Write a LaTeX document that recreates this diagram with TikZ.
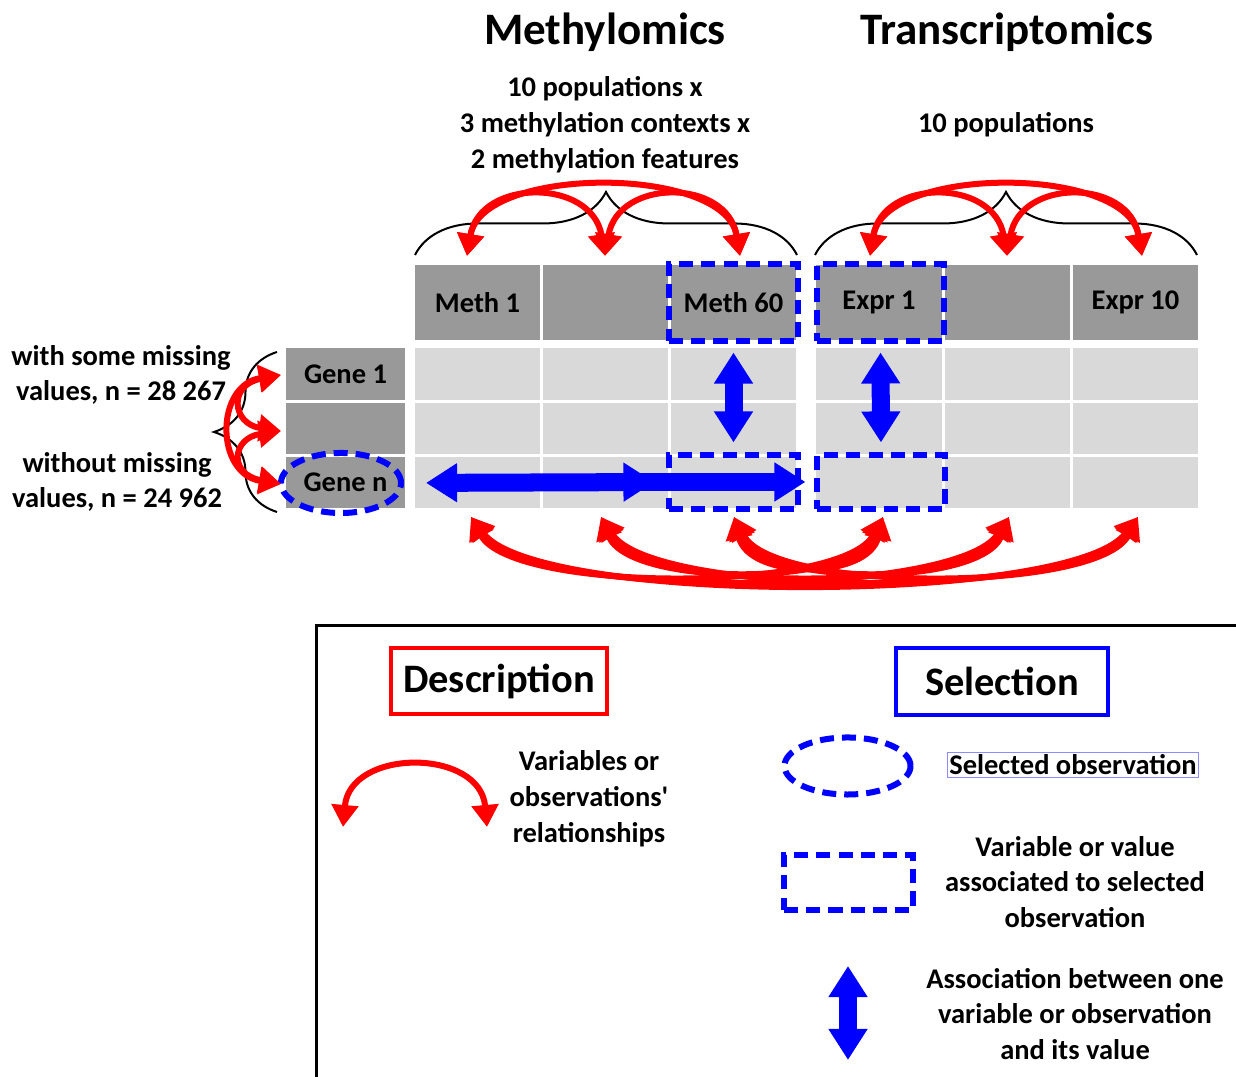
\documentclass[tikz,border=0pt]{standalone}
\usepackage{fontspec}
\setmainfont{Carlito}
\usetikzlibrary{arrows.meta,decorations.pathreplacing,shapes.geometric}

\definecolor{hdgray}{RGB}{153,153,153}
\definecolor{cellgray}{RGB}{217,217,217}
\definecolor{selblue}{RGB}{0,0,255}
\definecolor{relred}{RGB}{255,0,0}

\begin{document}
\begin{tikzpicture}[x = 0.01cm, y = -0.01cm,
    every node/.style = {font=\fontsize{8.1}{10.2}\selectfont\bfseries},
    title/.style = {font=\fontsize{12.8}{15}\selectfont\bfseries},
    legtitle/.style = {font=\fontsize{11.5}{14}\selectfont\bfseries, line width=0.04cm,
        minimum width=2.12cm, minimum height=0.66cm},
    head/.style = {fill=hdgray, minimum width=1.25cm, minimum height=0.75cm, inner sep=0pt},
    cell/.style = {fill=cellgray, minimum width=1.25cm, minimum height=0.51cm, inner sep=0pt},
    genecell/.style = {fill=hdgray, minimum width=1.19cm, minimum height=0.51cm, inner sep=0pt},
    seldash/.style = {draw=selblue, line width=0.06cm, dash pattern=on 0.14cm off 0.08cm, inner sep=0pt},
    relarrow/.style = {draw=relred, line width=0.06cm,
        arrows={Triangle[width=0.26cm,length=0.22cm]-Triangle[width=0.26cm,length=0.22cm]}},
    assoc/.style = {draw=selblue, line width=0.18cm,
        arrows={Triangle[width=0.37cm,length=0.31cm]-Triangle[width=0.37cm,length=0.31cm]}},
    brc/.style = {decorate, decoration={brace, amplitude=0.63cm}, line width=0.02cm}]

    \useasboundingbox (0,0) rectangle (1236,1077);

    % titles
    \node[title] (meth) at (605,32) {Methylomics};
    \node[title] (trans) at (1007,32) {Transcriptomics};
    \node[align=center] (mdesc) at (605,125) {10 populations x\\3 methylation contexts x\\2 methylation features};
    \node (tdesc) at (1006,125) {10 populations};

    % header row
    \node[head] (m1) at (477.5,302.5) {Meth 1};
    \node[head] (m2) at (605.5,302.5) {};
    \node[head] (m60) at (733.5,302.5) {Meth 60};
    \node[head] (e1) at (879,302.5) {Expr 1};
    \node[head] (e2) at (1007.5,302.5) {};
    \node[head] (e10) at (1135.5,302.5) {Expr 10};

    % gene column
    \node[genecell] (g1) at (345.5,374) {Gene 1};
    \node[genecell] (g2) at (345.5,428.5) {};
    \node[genecell] (gn) at (345.5,482.5) {Gene n};

    % values
    \foreach \x [count=\i] in {477.5,605.5,733.5,879,1007.5,1135.5}
      \foreach \y [count=\j] in {374,428.5,482.5}
        \node[cell] (v\i\j) at (\x,\y) {};

    % left labels
    \node[align=center] (lmiss) at (121,375) {with some missing\\values, n = 28 267};
    \node[align=center] (lfull) at (117,482) {without missing\\values, n = 24 962};

    % braces
    \draw[brc] (415,255) -- (797,255);
    \draw[brc] (815,255) -- (1197,255);
    \draw[brc] (277,512) -- (277,352);

    % selection
    \node[seldash, ellipse, minimum width=1.2cm, minimum height=0.6cm] (selgn) at (341,483) {};
    \node[seldash, minimum width=1.28cm, minimum height=0.76cm] (selm) at (733.5,302.5) {};
    \node[seldash, minimum width=1.26cm, minimum height=0.76cm] (sele) at (880.5,302.5) {};
    \node[seldash, minimum width=1.28cm, minimum height=0.53cm] (selmv) at (733.5,482) {};
    \node[seldash, minimum width=1.27cm, minimum height=0.53cm] (selev) at (881,482) {};

    \draw[assoc, shorten <=0.09cm, shorten >=0.1cm] (selm.south) -- (selmv.north);
    \draw[assoc, shorten <=0.09cm, shorten >=0.1cm] (sele.south) -- (selev.north);
    \draw[assoc, arrows={-Triangle[width=0.37cm,length=0.31cm]}, shorten <=-0.3cm, shorten >=0.09cm] (selmv.west) -- (selev.west);
    \draw[assoc, shorten <=0.22cm, shorten >=0.12cm] (selgn.east) -- (selmv.west);

    % relationships, columns
    \coordinate (tm1) at (467,256);
    \coordinate (tm2) at (605,256);
    \coordinate (tm3) at (740,256);
    \coordinate (te1) at (870,256);
    \coordinate (te2) at (1007,256);
    \coordinate (te3) at (1142,256);
    \draw[relarrow] (tm1) .. controls (482,165) and (725,165) .. (tm3);
    \draw[relarrow] (tm1) .. controls (480,178) and (592,178) .. (tm2);
    \draw[relarrow] (tm2) .. controls (618,178) and (727,178) .. (tm3);
    \draw[relarrow] (te1) .. controls (885,165) and (1127,165) .. (te3);
    \draw[relarrow] (te1) .. controls (883,178) and (994,178) .. (te2);
    \draw[relarrow] (te2) .. controls (1020,178) and (1129,178) .. (te3);

    \coordinate (bm1) at (471,517);
    \coordinate (bm2) at (601,517);
    \coordinate (bm3) at (734,517);
    \coordinate (be1) at (883,517);
    \coordinate (be2) at (1009,517);
    \coordinate (be3) at (1138,517);
    \draw[relarrow] (bm1) .. controls +(41,76) and +(-41,76) .. (be1);
    \draw[relarrow] (bm1) .. controls +(54,82) and +(-54,82) .. (be2);
    \draw[relarrow] (bm1) .. controls +(67,88) and +(-67,88) .. (be3);
    \draw[relarrow] (bm2) .. controls +(28,70) and +(-28,70) .. (be1);
    \draw[relarrow] (bm2) .. controls +(41,76) and +(-41,76) .. (be2);
    \draw[relarrow] (bm2) .. controls +(54,82) and +(-54,82) .. (be3);
    \draw[relarrow] (bm3) .. controls +(15,63) and +(-15,63) .. (be1);
    \draw[relarrow] (bm3) .. controls +(28,70) and +(-28,70) .. (be2);
    \draw[relarrow] (bm3) .. controls +(40,76) and +(-40,76) .. (be3);

    % relationships, rows
    \coordinate (lg1) at (281,375);
    \coordinate (lg2) at (281,431);
    \coordinate (lg3) at (281,484);
    \draw[relarrow] (lg1) .. controls (215,385) and (215,474) .. (lg3);
    \draw[relarrow] (lg1) .. controls (228,385) and (232,424) .. (lg2);
    \draw[relarrow] (lg2) .. controls (232,438) and (228,474) .. (lg3);

    % legend
    \draw[line width=0.03cm] (316,1077) -- (316,626) -- (1236,626);
    \node[legtitle, draw=relred] (desc) at (499,681) {Description};
    \node[legtitle, draw=selblue] (sel) at (1002,681.5) {Selection};

    \coordinate (la) at (343,827);
    \coordinate (lb) at (487,827);
    \draw[relarrow] (la) .. controls (350,748) and (480,748) .. (lb);
    \node[align=center] (ldesc) at (589,799) {Variables or\\observations\textquotesingle\\relationships};

    \node[seldash, ellipse, minimum width=1.26cm, minimum height=0.57cm] (lell) at (847.5,766) {};
    \node[draw=selblue!45, line width=0.01cm, inner sep=0.6pt] (lsel) at (1073,765) {Selected observation};

    \node[seldash, minimum width=1.28cm, minimum height=0.54cm] (lrect) at (848.5,882.5) {};
    \node[align=center] (lvar) at (1075,882) {Variable or value\\associated to selected\\observation};

    \coordinate (lat) at (848,966);
    \coordinate (lab) at (848,1060);
    \draw[assoc] (lat) -- (lab);
    \node[align=center] (lass) at (1075,1014) {Association between one\\variable or observation\\and its value};
\end{tikzpicture}
\end{document}
